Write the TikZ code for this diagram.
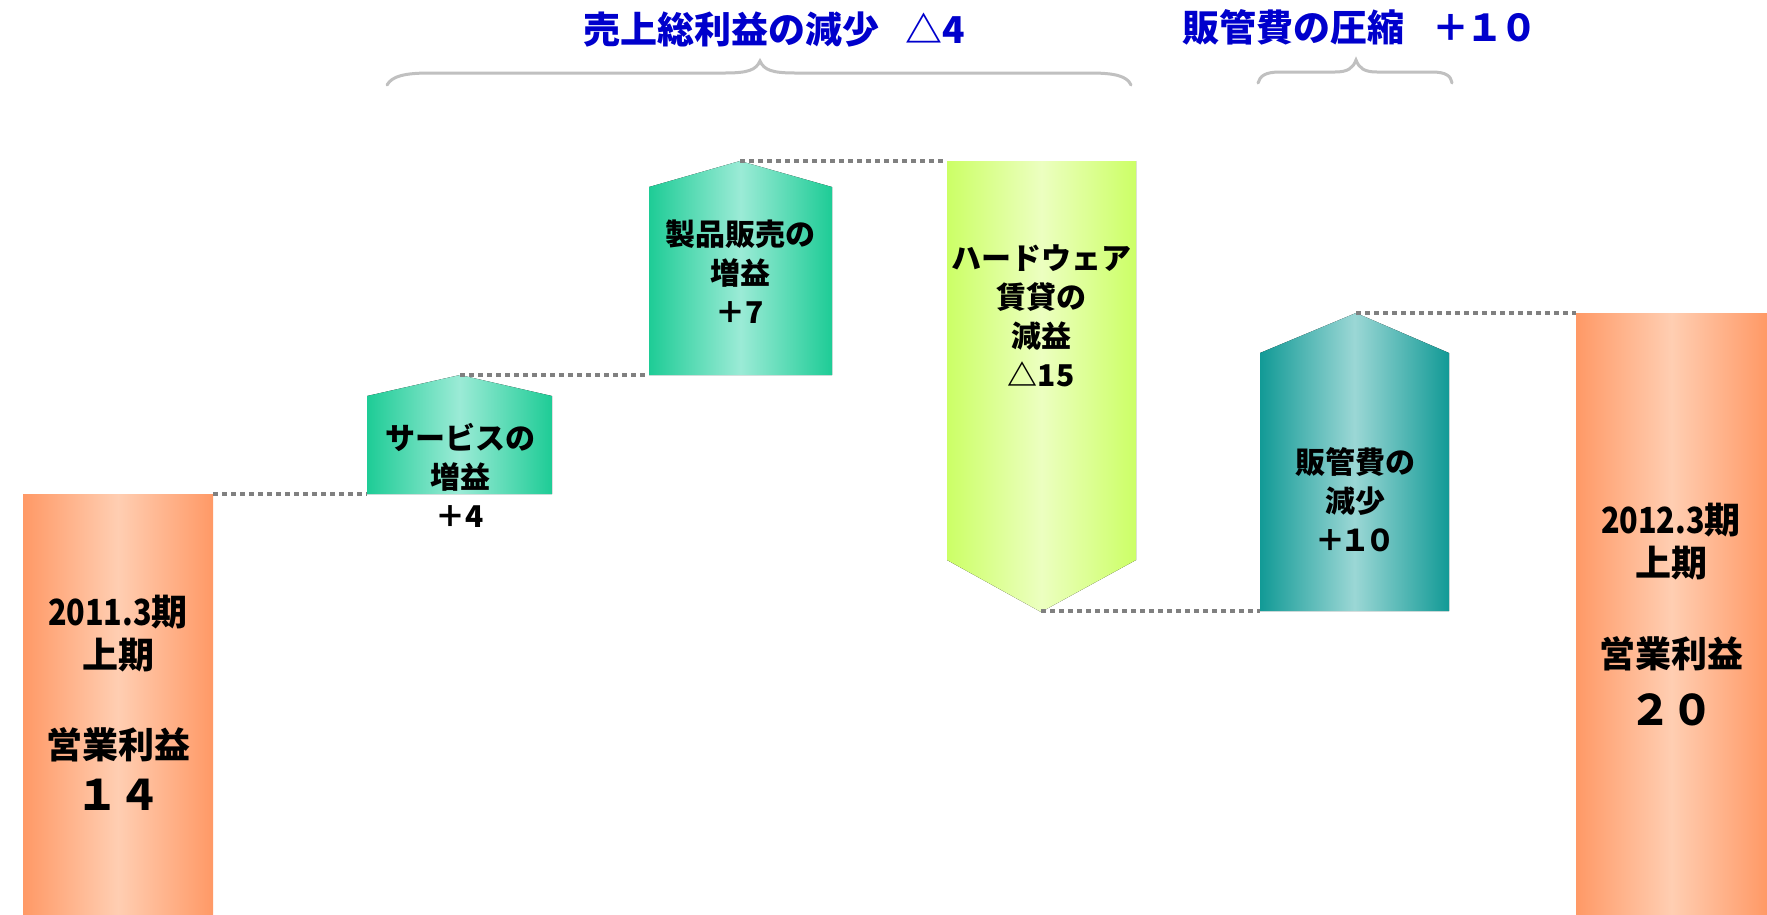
\documentclass[tikz,border=0pt]{standalone}
\usepackage{fontspec}
\setmainfont{Noto Sans CJK JP}
\definecolor{orEdge}{RGB}{255,153,102}
\definecolor{orMid}{RGB}{255,206,178}
\definecolor{grEdge}{RGB}{30,204,150}
\definecolor{grMid}{RGB}{155,235,214}
\definecolor{hwEdge}{RGB}{204,255,102}
\definecolor{hwMid}{RGB}{236,255,192}
\definecolor{tlEdge}{RGB}{18,154,150}
\definecolor{tlMid}{RGB}{155,215,213}
\definecolor{ttlBlue}{RGB}{0,0,204}
\definecolor{dotGray}{RGB}{128,128,128}
\definecolor{braceGray}{RGB}{192,192,192}
\newcommand{\narrowdig}[1]{\scalebox{0.85}[1]{#1}}
\begin{document}
\begin{tikzpicture}[x=1pt,y=-1pt,
  dotline/.style={draw=dotGray,line width=4.5pt,dash pattern=on 4.5pt off 4.5pt},
  braceline/.style={draw=braceGray,line width=3pt,line cap=round},
  boxtxt/.style={font=\fontsize{30}{39}\selectfont\bfseries,align=center,inner sep=0pt},
  bartxt/.style={font=\fontsize{36}{43}\selectfont\bfseries,align=center,inner sep=0pt},
  bignum/.style={font=\fontsize{42}{46}\selectfont\bfseries,align=center,inner sep=0pt},
  ttl/.style={font=\fontsize{37}{42}\selectfont\bfseries,text=ttlBlue,inner sep=0pt,anchor=west},
  orfill/.style={left color=orEdge,right color=orEdge,middle color=orMid},
  grfill/.style={left color=grEdge,right color=grEdge,middle color=grMid},
  hwfill/.style={left color=hwEdge,right color=hwEdge,middle color=hwMid},
  tlfill/.style={left color=tlEdge,right color=tlEdge,middle color=tlMid}]
\useasboundingbox (0,0) rectangle (1767,914);
\fill[white] (0,0) rectangle (1767,914);

% shapes
\fill[orfill] (23,494) rectangle (213,914);
\fill[grfill] (367,494) -- (367,396) -- (460,375) -- (552,396) -- (552,494) -- cycle;
\fill[grfill] (649,375) -- (649,187) -- (740,161) -- (832,187) -- (832,375) -- cycle;
\fill[hwfill] (947,161) -- (1136,161) -- (1136,560) -- (1041,612) -- (947,560) -- cycle;
\fill[tlfill] (1260,611) -- (1260,353) -- (1356,313) -- (1449,353) -- (1449,611) -- cycle;
\fill[orfill] (1576,313) rectangle (1767,914);

% anchor coordinates
\coordinate (lbTR) at (213,494);
\coordinate (svBL) at (367,494);
\coordinate (svTop) at (460,375);
\coordinate (pdBL) at (649,375);
\coordinate (pdTop) at (740,161);
\coordinate (hwTL) at (947,161);
\coordinate (hwBot) at (1041,611);
\coordinate (tlBL) at (1260,611);
\coordinate (tlTop) at (1356,313);
\coordinate (rbTL) at (1576,313);

% dotted connectors
\draw[dotline] (lbTR) -- (svBL);
\draw[dotline] (svTop) -- (pdBL);
\draw[dotline] (pdTop) -- (hwTL);
\draw[dotline] (hwBot) -- (tlBL);
\draw[dotline] (tlTop) -- (rbTL);

% braces
\draw[braceline] (387,85) .. controls (392,76) and (405,73) .. (430,73) -- (725,73)
  .. controls (748,73) and (756,70) .. (760,61) .. controls (764,70) and (772,73) .. (795,73)
  -- (1090,73) .. controls (1115,73) and (1127,76) .. (1131,85);
\draw[braceline] (1258,83) .. controls (1260,76) and (1265,72) .. (1280,72) -- (1335,72)
  .. controls (1348,72) and (1353,68) .. (1356,60) .. controls (1359,68) and (1364,72) .. (1377,72)
  -- (1432,72) .. controls (1446,72) and (1451,76) .. (1452,83);

% titles
\node[ttl] (t1) at (583,30) {売上総利益の減少\hspace{26pt}△4};
\node[ttl] (t2) at (1182,27) {販管費の圧縮\hspace{28pt}＋\kern-3pt１\kern-3pt０};

% box texts
\node[boxtxt] (svTxt) at (460,475) {サービスの\\増益\\＋4};
\node[boxtxt] (pdTxt) at (740,272) {製品販売の\\増益\\＋7};
\node[boxtxt] (hwTxt) at (1041,316) {ハードウェア\\賃貸の\\減益\\△15};
\node[boxtxt] (tlTxt) at (1355,500) {販管費の\\減少\\＋\kern-5pt１\kern-5pt０};

% bar texts
\node[bartxt] (lb1) at (118,634) {\narrowdig{2011.3}期\\上期};
\node[bartxt] (lb2) at (118,745) {営業利益};
\node[bignum] (lb3) at (118,795) {１４};
\node[bartxt] (rb1) at (1671,542) {\narrowdig{2012.3}期\\上期};
\node[bartxt] (rb2) at (1671,654) {営業利益};
\node[bignum] (rb3) at (1671,710) {２０};
\end{tikzpicture}
\end{document}
